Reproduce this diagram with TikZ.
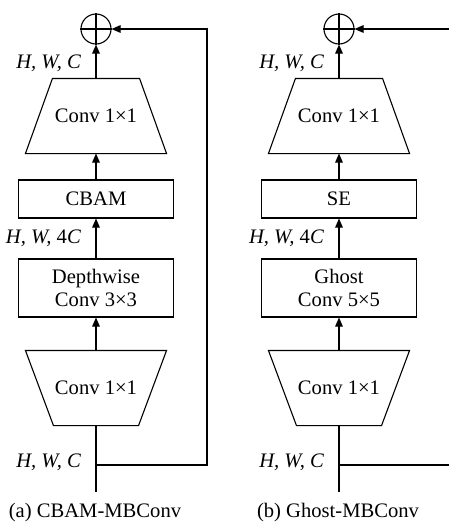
\documentclass[tikz,border=0pt]{standalone}
\usepackage{fontspec}
\setmainfont{Liberation Serif}
\usetikzlibrary{arrows.meta,calc}

% trapezoid outlines round a named node
\newcommand{\projtrapdraw}[1]{\draw (#1.south west) -- (#1.south east) -- ($(#1.north east)+(-27,0)$) -- ($(#1.north west)+(27,0)$) -- cycle;}
\newcommand{\exptrapdraw}[1]{\draw (#1.north west) -- (#1.north east) -- ($(#1.south east)+(-28,0)$) -- ($(#1.south west)+(28,0)$) -- cycle;}

\begin{document}
\begin{tikzpicture}[
    x=0.5pt, y=-0.5pt,
    line width=0.55pt,
    font=\fontsize{10.3}{11.8}\selectfont,
    box/.style={rectangle, draw, minimum width=77.5pt, minimum height=19pt, align=center, inner sep=0pt},
    tallbox/.style={box, minimum height=29pt},
    trapbox/.style={rectangle, minimum width=70pt, minimum height=37pt, inner sep=0pt},
    sumnode/.style={circle, draw, minimum size=15pt, inner sep=0pt},
    lbl/.style={anchor=base east, font=\fontsize{10.3}{11.8}\selectfont\itshape},
    arrow/.style={-{Triangle[length=4.5pt, width=3.8pt]}}
]
\useasboundingbox (0,0) rectangle (449,525);

% (a) CBAM-MBConv
\node[sumnode] (suma) at (96,29) {};
\node[trapbox] (proja) at (96,116) {Conv 1×1};
\node[box] (cbam) at (96,199) {CBAM};
\node[tallbox] (dwconv) at (96,288) {Depthwise\\Conv 3×3};
\node[trapbox] (expa) at (96,388) {Conv 1×1};
\coordinate (ina) at (96,492);
\coordinate (splita) at (96,465);
\coordinate (skipa) at (207,465);

% (b) Ghost-MBConv
\node[sumnode] (sumb) at (339,29) {};
\node[trapbox] (projb) at (339,116) {Conv 1×1};
\node[box] (se) at (339,199) {SE};
\node[tallbox] (ghost) at (339,288) {Ghost\\Conv 5×5};
\node[trapbox] (expb) at (339,388) {Conv 1×1};
\coordinate (inb) at (339,492);
\coordinate (splitb) at (339,465);
\coordinate (skipb) at (449,465);
\coordinate (topb) at (449,29);

% Trapezoids
\projtrapdraw{proja}
\exptrapdraw{expa}
\projtrapdraw{projb}
\exptrapdraw{expb}

% Plus signs
\draw (suma.north) -- (suma.south) (suma.west) -- (suma.east);
\draw (sumb.north) -- (sumb.south) (sumb.west) -- (sumb.east);

% Arrows - (a)
\draw (ina) -- (expa);
\draw[arrow] (expa) -- (dwconv);
\draw[arrow] (dwconv) -- (cbam);
\draw[arrow] (cbam) -- (proja);
\draw[arrow] (proja) -- (suma);
\draw[arrow] (splita) -- (skipa) |- (suma);

% Arrows - (b)
\draw (inb) -- (expb);
\draw[arrow] (expb) -- (ghost);
\draw[arrow] (ghost) -- (se);
\draw[arrow] (se) -- (projb);
\draw[arrow] (projb) -- (sumb);
\draw (splitb) -- (skipb);
\draw[arrow] (topb) -- (sumb);

% Labels
\node[lbl] (hwca1) at (88,68) {H, W, C};
\node[lbl] (hwca2) at (88,243) {H, W, \textup{4}C};
\node[lbl] (hwca3) at (88,467) {H, W, C};
\node[lbl] (hwcb1) at (331,68) {H, W, C};
\node[lbl] (hwcb2) at (331,243) {H, W, \textup{4}C};
\node[lbl] (hwcb3) at (331,467) {H, W, C};

% Captions
\node[anchor=base] (capa) at (95,517) {(a) CBAM-MBConv};
\node[anchor=base] (capb) at (338,517) {(b) Ghost-MBConv};

\end{tikzpicture}
\end{document}
